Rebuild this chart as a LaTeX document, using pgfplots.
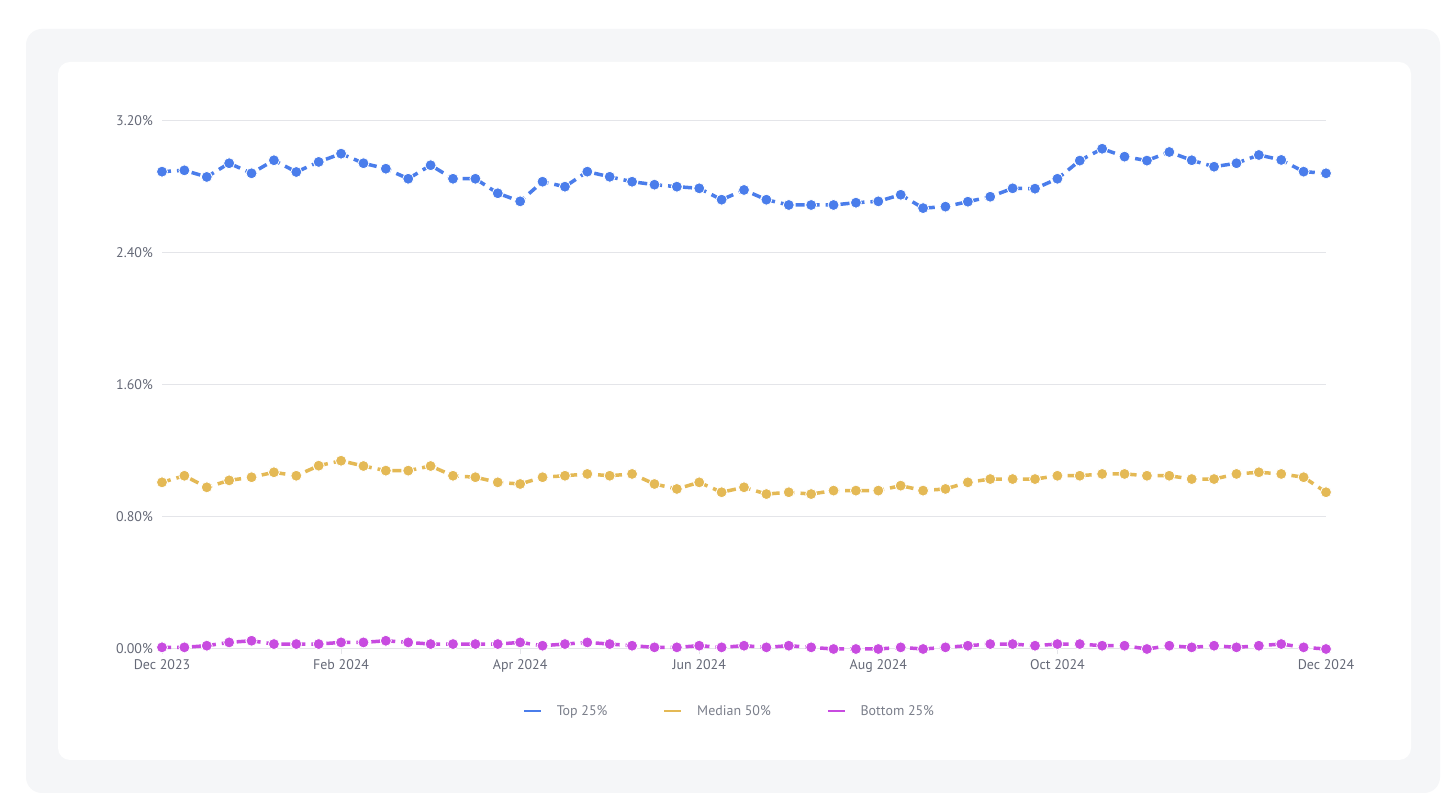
\documentclass[border=0pt]{standalone}
\usepackage{fontspec}
\setmainfont{PT Sans}
\usepackage{pgfplots}
\pgfplotsset{compat=1.18}
\usepackage{pgfplotstable}
\definecolor{topblue}{HTML}{4A7DEB}
\definecolor{medgold}{HTML}{E4B955}
\definecolor{botmag}{HTML}{C84BE0}
\definecolor{gridgray}{HTML}{E4E5E9}
\definecolor{ticktext}{HTML}{656977}
\definecolor{legtext}{HTML}{7A7E8A}
\definecolor{bggray}{HTML}{F5F6F8}

\pgfplotstableread{
x y
0 2.893
1 2.901
2 2.861
3 2.944
4 2.883
5 2.962
6 2.891
7 2.952
8 3.002
9 2.944
10 2.911
11 2.850
12 2.932
13 2.850
14 2.850
15 2.762
16 2.713
17 2.832
18 2.802
19 2.893
20 2.862
21 2.832
22 2.814
23 2.802
24 2.792
25 2.723
26 2.782
27 2.723
28 2.691
29 2.691
30 2.691
31 2.705
32 2.713
33 2.753
34 2.672
35 2.681
36 2.711
37 2.741
38 2.792
39 2.790
40 2.850
41 2.960
42 3.032
43 2.984
44 2.960
45 3.012
46 2.962
47 2.923
48 2.944
49 2.994
50 2.964
51 2.893
52 2.883
}\toptable

\pgfplotstableread{
x y
0 1.010
1 1.050
2 0.980
3 1.022
4 1.041
5 1.071
6 1.050
7 1.111
8 1.141
9 1.109
10 1.081
11 1.081
12 1.109
13 1.050
14 1.041
15 1.010
16 1.000
17 1.041
18 1.050
19 1.061
20 1.050
21 1.061
22 1.000
23 0.970
24 1.010
25 0.950
26 0.980
27 0.939
28 0.950
29 0.939
30 0.960
31 0.960
32 0.960
33 0.990
34 0.960
35 0.970
36 1.010
37 1.030
38 1.030
39 1.030
40 1.050
41 1.050
42 1.061
43 1.061
44 1.050
45 1.050
46 1.030
47 1.030
48 1.061
49 1.071
50 1.061
51 1.041
52 0.950
}\medtable

\pgfplotstableread{
x y
0 0.01
1 0.01
2 0.02
3 0.04
4 0.05
5 0.03
6 0.03
7 0.03
8 0.04
9 0.04
10 0.05
11 0.04
12 0.03
13 0.03
14 0.03
15 0.03
16 0.04
17 0.02
18 0.03
19 0.04
20 0.03
21 0.02
22 0.01
23 0.01
24 0.02
25 0.01
26 0.02
27 0.01
28 0.02
29 0.01
30 0.00
31 0.00
32 0.00
33 0.01
34 0.00
35 0.01
36 0.02
37 0.03
38 0.03
39 0.02
40 0.03
41 0.03
42 0.02
43 0.02
44 0.00
45 0.02
46 0.01
47 0.02
48 0.01
49 0.02
50 0.03
51 0.01
52 0.00
}\bottable

\begin{document}
\begin{tikzpicture}
\fill[white] (0bp,0bp) rectangle (1456bp,808bp);
\fill[bggray, rounded corners=16bp] (26bp,15bp) rectangle (1440bp,779bp);
\fill[white, rounded corners=12bp] (58bp,48bp) rectangle (1411bp,746bp);
\begin{axis}[
  at={(162bp,159bp)}, anchor=south west,
  width=1164bp, height=528bp, scale only axis,
  xmin=0, xmax=52, ymin=0, ymax=3.2,
  clip=false,
  axis x line*=bottom, axis y line*=left,
  x axis line style={draw=gridgray, line width=1bp, -},
  y axis line style={draw=none},
  ymajorgrids, grid style={draw=gridgray, line width=1bp},
  xtick={0,8,16,24,32,40,52},
  xticklabels={Dec 2023,Feb 2024,Apr 2024,Jun 2024,Aug 2024,Oct 2024,Dec 2024},
  ytick={0,0.8,1.6,2.4,3.2},
  yticklabels={0.00\%,0.80\%,1.60\%,2.40\%,3.20\%},
  tick align=outside,
  major tick length=5bp,
  xtick style={draw=gridgray, line width=1bp},
  ytick style={draw=none},
  ticklabel style={font=\fontsize{14}{16}\selectfont, text=ticktext},
  xticklabel style={inner sep=0pt, yshift=-5bp},
  yticklabel style={inner sep=0pt, xshift=-4bp},
  every axis plot/.append style={line width=3.5bp, dash pattern=on 9bp off 6bp},
  legend style={at={(0.310,-0.117)}, anchor=west, draw=none, fill=none, inner sep=0pt,
    font=\fontsize{14}{16}\selectfont, text=legtext,
    nodes={inner sep=2bp},
    /tikz/every even column/.append style={column sep=54bp}},
  legend columns=3,
  legend image code/.code={\draw[solid, line width=2bp] (0bp,0bp) -- (17bp,0bp); \path (29bp,0bp);},
]
\addplot[topblue, mark=*, mark size=5.5bp, mark options={solid, fill=topblue, draw=white, line width=0.8bp}] table[x=x,y=y] {\toptable};
\addlegendentry{Top 25\%}
\addplot[medgold, mark=*, mark size=5.5bp, mark options={solid, fill=medgold, draw=white, line width=0.8bp}] table[x=x,y=y] {\medtable};
\addlegendentry{Median 50\%}
\addplot[botmag, mark=*, mark size=5.5bp, mark options={solid, fill=botmag, draw=white, line width=0.8bp}] table[x=x,y=y] {\bottable};
\addlegendentry{Bottom 25\%}
\end{axis}
\end{tikzpicture}
\end{document}
